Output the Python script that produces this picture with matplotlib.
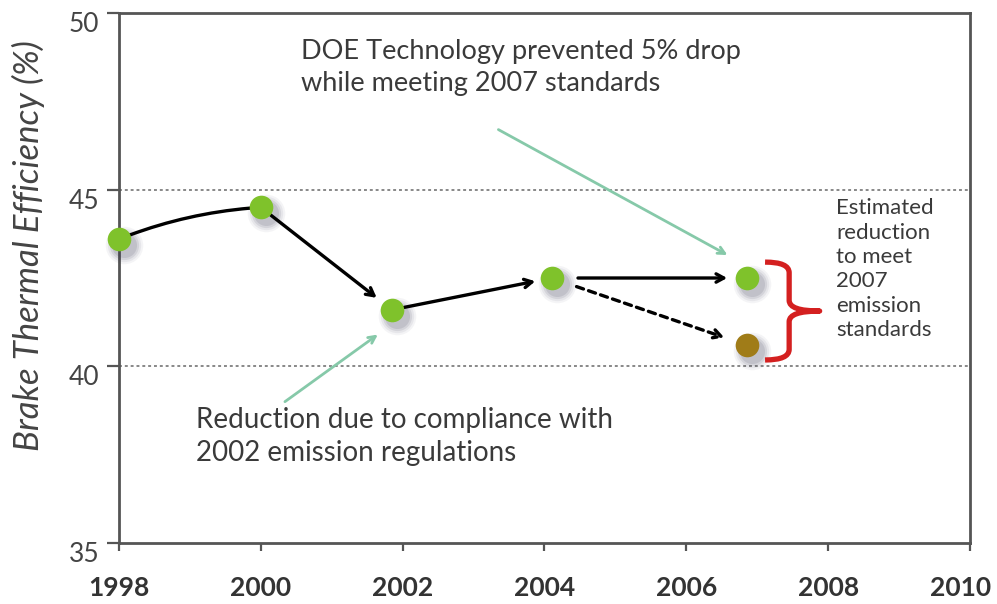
import matplotlib
matplotlib.use("Agg")
import matplotlib.pyplot as plt
from matplotlib.path import Path
from matplotlib.patches import PathPatch
from matplotlib.transforms import ScaledTranslation, offset_copy

# ---------------- data ----------------
years = [1998.0, 2000.0, 2001.85, 2004.1]
efficiency = [43.6, 44.5, 41.6, 42.5]
year_2007 = 2006.85
eff_2007_doe = 42.5
eff_2007_est = 40.6
xticks = [1998, 2000, 2002, 2004, 2006, 2008, 2010]
yticks = [35, 40, 45, 50]
ref_lines = [45, 40]

label_top = "DOE Technology prevented 5% drop\nwhile meeting 2007 standards"
label_bottom = "Reduction due to compliance with\n2002 emission regulations"
label_right = "Estimated\nreduction\nto meet\n2007\nemission\nstandards"
ylabel = "Brake Thermal Efficiency (%)"

plt.rcParams['font.family'] = ['Lato', 'DejaVu Sans']

W, H, DPI = 997, 604, 100
fig = plt.figure(figsize=(W / DPI, H / DPI), dpi=DPI)
ax = fig.add_axes([119 / W, (H - 543) / H, (970 - 119) / W, (543 - 13) / H])
ax.set_xlim(1998, 2010)
ax.set_ylim(35, 50)

spine_c = '#555555'
for s in ax.spines.values():
    s.set_color(spine_c)
    s.set_linewidth(2.0)
    s.set_zorder(1)

ax.set_xticks(xticks)
ax.set_xticklabels([str(t) for t in xticks], fontsize=19, fontweight='bold', color='#333333')
ax.set_yticks(yticks)
ax.set_yticklabels([str(t) for t in yticks], fontsize=19, color='#444444')
ax.tick_params(axis='x', direction='out', length=6, width=1.6, color=spine_c, pad=18)
ax.tick_params(axis='y', direction='out', length=9, width=1.6, color=spine_c, pad=5)
for lab in ax.get_yticklabels():
    lab.set_transform(lab.get_transform() + ScaledTranslation(0, -9 / DPI, fig.dpi_scale_trans))
xlabs = ax.get_xticklabels()
xlabs[-1].set_transform(xlabs[-1].get_transform() + ScaledTranslation(-9 / DPI, 0, fig.dpi_scale_trans))

for v in ref_lines:
    ax.axhline(v, color='#888888', lw=1.4, ls=(0, (1.5, 1.5)), zorder=1)

fig.text(28 / W, 1 - 246 / H, ylabel, rotation=90, ha='center', va='center',
         fontsize=25, style='italic', color='#444444')

# ---------------- shadows of markers ----------------
all_x = years + [year_2007, year_2007]
all_y = efficiency + [eff_2007_doe, eff_2007_est]
for sz, a in [(27, 0.05), (24, 0.07), (21, 0.10), (18, 0.12)]:
    tr = offset_copy(ax.transData, fig=fig, x=5, y=-6, units='dots')
    ax.plot(all_x, all_y, 'o', ms=sz, color='#3a3a50', alpha=a, mec='none',
            transform=tr, zorder=3, clip_on=False)

# ---------------- connectors ----------------
black_kw = dict(color='black', lw=2.4)
ax.annotate('', xy=(years[1], efficiency[1]), xytext=(years[0], efficiency[0]),
            arrowprops=dict(arrowstyle='-', connectionstyle='arc3,rad=-0.08',
                            shrinkA=8, shrinkB=8, **black_kw), zorder=4)
ah = '->,head_length=0.55,head_width=0.3'
ax.annotate('', xy=(years[2], efficiency[2]), xytext=(years[1], efficiency[1]),
            arrowprops=dict(arrowstyle=ah, shrinkA=9, shrinkB=14, **black_kw), zorder=4)
ax.annotate('', xy=(years[3], efficiency[3]), xytext=(years[2], efficiency[2]),
            arrowprops=dict(arrowstyle=ah, shrinkA=9, shrinkB=12, **black_kw), zorder=4)
ax.annotate('', xy=(year_2007, eff_2007_doe), xytext=(years[3], efficiency[3]),
            arrowprops=dict(arrowstyle=ah, shrinkA=19, shrinkB=14, **black_kw), zorder=4)
ax.annotate('', xy=(year_2007, eff_2007_est), xytext=(years[3], efficiency[3]),
            arrowprops=dict(arrowstyle=ah, shrinkA=19, shrinkB=17, ls=(0, (2.2, 1.6)),
                            **black_kw), zorder=4)

# ---------------- markers ----------------
ax.plot(years, efficiency, 'o', ms=17, color='#7fc22b', mec='none', zorder=5, clip_on=False)
ax.plot([year_2007], [eff_2007_doe], 'o', ms=17, color='#7fc22b', mec='none', zorder=5)
ax.plot([year_2007], [eff_2007_est], 'o', ms=17, color='#a07c18', mec='none', zorder=5)

# ---------------- green annotation arrows ----------------
green = '#86c9a9'
ax.annotate('', xy=(year_2007 - 0.27, eff_2007_doe + 0.65), xytext=(2003.35, 46.7),
            arrowprops=dict(arrowstyle='->,head_length=0.5,head_width=0.25',
                            color=green, lw=2.0, shrinkA=0, shrinkB=0), zorder=4)
ax.annotate('', xy=(2001.65, 40.9), xytext=(2000.34, 39.0),
            arrowprops=dict(arrowstyle='->,head_length=0.5,head_width=0.25',
                            color=green, lw=2.0, shrinkA=0, shrinkB=0), zorder=4)

# ---------------- texts ----------------
ax.text(2000.57, 49.25, label_top, ha='left', va='top', fontsize=19.5, color='#3a3a3a',
        linespacing=1.35)
ax.text(1999.08, 38.85, label_bottom, ha='left', va='top', fontsize=20, color='#3a3a3a',
        linespacing=1.35)
ax.text(2008.11, 44.75, label_right, ha='left', va='top', fontsize=16, color='#3a3a3a',
        linespacing=1.27)

# ---------------- red brace ----------------
xb0 = year_2007 + 0.26
xb1 = year_2007 + 0.6
xtip = year_2007 + 1.03
ytop = eff_2007_doe + 0.45
ybot = eff_2007_est - 0.42
ymid = (ytop + ybot) / 2
r = 0.3
verts = [
    (xb0, ytop), (xb1, ytop), (xb1, ytop - r),
    (xb1, ymid + r),
    (xb1, ymid), (xtip, ymid),
    (xb1, ymid), (xb1, ymid - r),
    (xb1, ybot + r),
    (xb1, ybot), (xb0, ybot),
]
codes = [Path.MOVETO, Path.CURVE3, Path.CURVE3,
         Path.LINETO,
         Path.CURVE3, Path.CURVE3,
         Path.CURVE3, Path.CURVE3,
         Path.LINETO,
         Path.CURVE3, Path.CURVE3]
ax.add_patch(PathPatch(Path(verts, codes), fill=False, edgecolor='#d42020', lw=3.8,
                       capstyle='butt', joinstyle='round', zorder=4))

fig.savefig('out.png', dpi=DPI, facecolor='white')
